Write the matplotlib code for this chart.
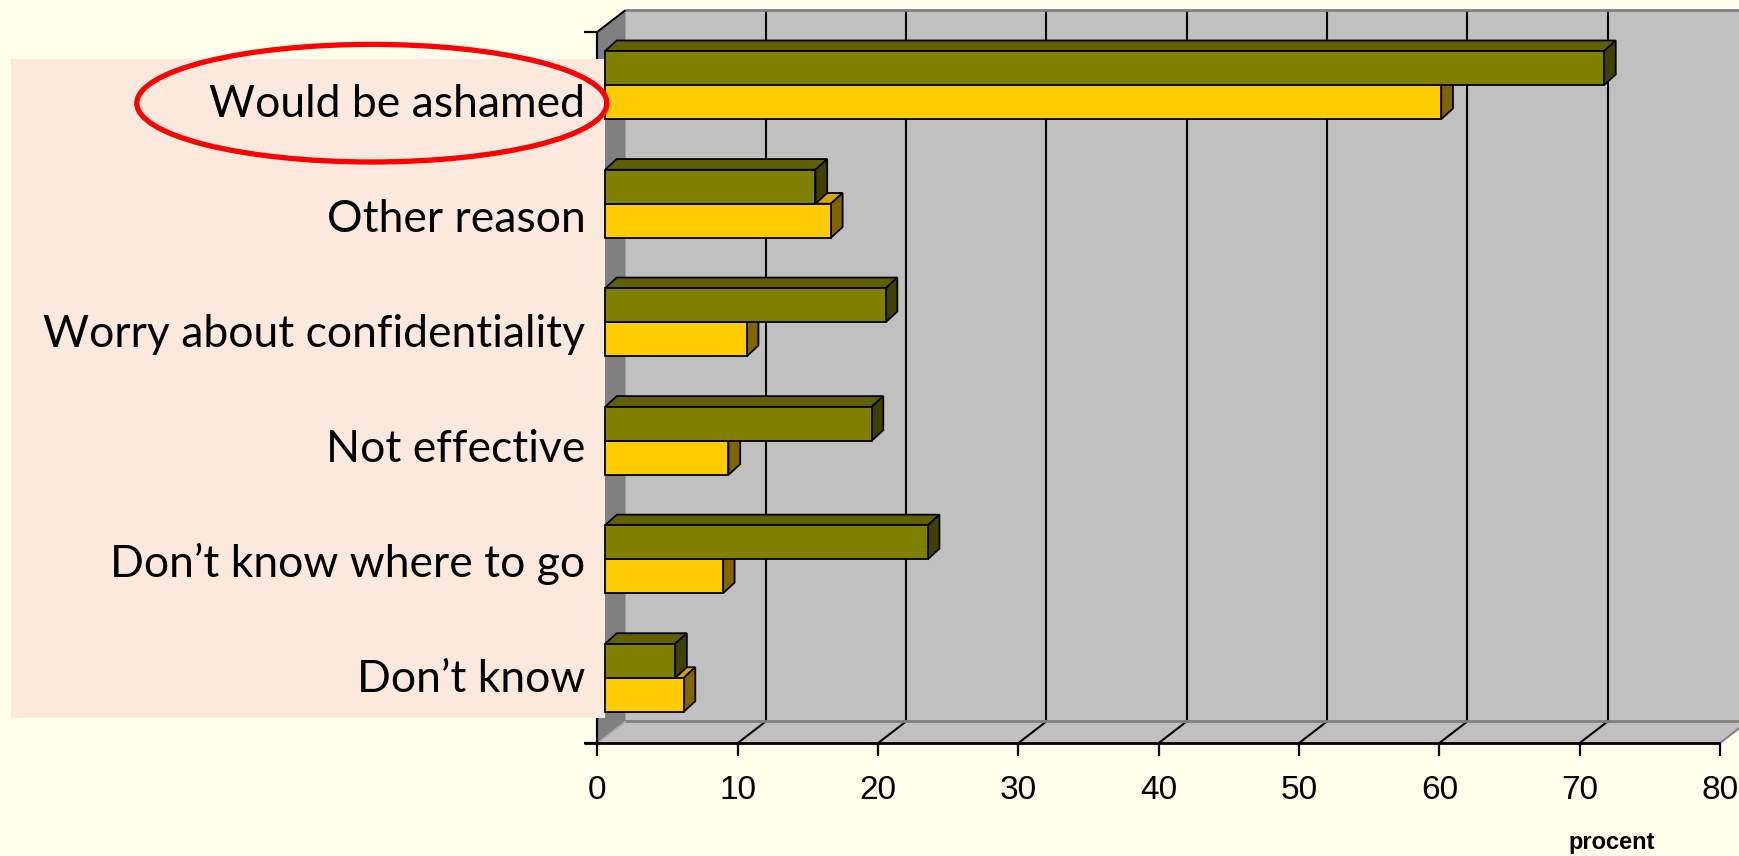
import matplotlib
matplotlib.use("Agg")
import matplotlib.pyplot as plt
from matplotlib.patches import Polygon, Rectangle, Ellipse

# Survey results: reasons for not seeking help (percent)
categories = ["Don\u2019t know", "Don\u2019t know where to go", "Not effective",
              "Worry about confidentiality", "Other reason", "Would be ashamed"]
series_a = [5.0, 23.0, 19.0, 20.0, 15.0, 71.2]   # olive bars (upper in each pair)
series_b = [5.6, 8.4, 8.8, 10.1, 16.1, 59.6]     # yellow bars (lower in each pair)
x_ticks = [0, 10, 20, 30, 40, 50, 60, 70, 80]
x_label = "procent"
highlight = "Would be ashamed"

W, H, DPI = 1740, 856, 100
BG = "#FFFEEB"
PINK = "#FCE9DE"
WALL = "#C0C0C0"
SIDE_WALL = "#808080"
OLIVE = ("#808000", "#606000", "#404000")   # front, top, side
YELLOW = ("#FFCC00", "#D4A600", "#806600")

fig = plt.figure(figsize=(W / DPI, H / DPI), dpi=DPI, facecolor=BG)

# plot frame (front plane) in pixels
x0_px, x1_px = 597.5, 1720.0
y0_px, y1_px = 743.0, 31.7
ax = fig.add_axes([x0_px / W, (H - y0_px) / H, (x1_px - x0_px) / W, (y0_px - y1_px) / H])
ax.set_xlim(x_ticks[0], x_ticks[-1])
ax.set_ylim(0, len(categories))
ax.axis("off")
ax.set_facecolor("none")

ux = (x1_px - x0_px) / (x_ticks[-1] - x_ticks[0])   # px per percent
uy = (y0_px - y1_px) / len(categories)             # px per category

def px_x(p):
    return p / ux

def px_y(p):
    return p / uy

def fig_y(p):
    """data y for a pixel row measured from the top of the figure"""
    return (y0_px - p) / uy

# depth of the chart box
DX, DY = px_x(28), px_y(21.6)
xmax = x_ticks[-1]
ncat = len(categories)

def poly(pts, fc, ec="none", lw=0, z=1):
    ax.add_patch(Polygon(pts, closed=True, facecolor=fc, edgecolor=ec,
                         linewidth=lw, zorder=z, clip_on=False, joinstyle="miter"))

def line(xs, ys, color="black", lw=1.4, z=2):
    ax.plot(xs, ys, color=color, lw=lw, zorder=z, clip_on=False, solid_capstyle="butt")

# back wall, side wall, floor
poly([(DX, DY), (xmax + DX, DY), (xmax + DX, ncat + DY), (DX, ncat + DY)], WALL, z=1)
poly([(0, 0), (DX, DY), (DX, ncat + DY), (0, ncat)], SIDE_WALL, z=1)
poly([(0, 0), (xmax, 0), (xmax + DX, DY), (DX, DY)], WALL, z=1)

# gridlines on back wall and floor
for t in x_ticks[1:]:
    line([t + DX, t + DX], [DY, ncat + DY], lw=1.5, z=2)
    line([t, t + DX], [0, DY], color="black" if t < xmax else SIDE_WALL, lw=1.5, z=2)
line([DX, xmax + DX], [DY, DY], color=SIDE_WALL, lw=2.0, z=2)
line([DX, xmax + DX], [ncat + DY, ncat + DY], color=SIDE_WALL, lw=2.0, z=2)
line([0, DX], [0, DY], color="#A8A8A8", lw=1.2, z=2)
line([0, DX], [ncat, ncat + DY], lw=1.4, z=2)

# axes lines and ticks
tick_len_x = px_y(13)
tick_len_y = px_x(13)
line([-tick_len_y, xmax], [0, 0], lw=2.0, z=3)
line([0, 0], [0, ncat], lw=1.6, z=3)
for t in x_ticks:
    line([t, t], [0, -tick_len_x], lw=1.6, z=3)
    ax.text(t, px_y(-47.5), f"{t}", ha="center", va="center",
            fontsize=24, family="Liberation Sans", color="black", zorder=5)
for k in range(ncat + 1):
    line([-tick_len_y, 0], [k, k], lw=1.6, z=3)

ax.text(px_x(1611.5 - x0_px), px_y(-99), x_label, ha="center", va="center",
        fontsize=17, fontweight="bold", family="Liberation Sans", zorder=5)

# label panel
pl, pr = px_x(11 - x0_px), px_x(605 - x0_px)
pb, pt = fig_y(718), fig_y(59)
ax.add_patch(Rectangle((pl, pb), pr - pl, pt - pb, facecolor=PINK, edgecolor="none",
                       zorder=4, clip_on=False))

# category labels, set as lines of a text panel (top line first)
first_baseline, line_step = 116.8, 115.0
for k, name in enumerate(reversed(categories)):
    ax.text(px_x(-12), fig_y(first_baseline + k * line_step), name, ha="right",
            va="baseline", fontsize=32, family=["Lato", "DejaVu Sans"],
            color="black", zorder=6)

# 3-D bars
bx0, by0 = px_x(7.5), px_y(5.8)      # front face offset into the box
bdx, bdy = px_x(11.7), px_y(10.7)     # bar depth
bh = px_y(34)                         # bar thickness

def bar3d(x_start, y_bot, value, colors):
    front, top, side = colors
    xe = x_start + value
    yt = y_bot + bh
    ec, lw = "black", 1.3
    poly([(x_start, yt), (xe, yt), (xe + bdx, yt + bdy), (x_start + bdx, yt + bdy)],
         top, ec, lw, z=7)
    poly([(xe, y_bot), (xe + bdx, y_bot + bdy), (xe + bdx, yt + bdy), (xe, yt)],
         side, ec, lw, z=7)
    poly([(x_start, y_bot), (xe, y_bot), (xe, yt), (x_start, yt)], front, ec, lw, z=8)

for i in range(ncat):
    c = i + 0.5 + by0
    bar3d(bx0, c - bh, series_b[i], YELLOW)
    bar3d(bx0, c, series_a[i], OLIVE)

# highlight ring around the first label line
ax.add_patch(Ellipse((px_x(371.8 - x0_px), fig_y(103.2)),
                     width=px_x(470), height=px_y(117.6), facecolor="none",
                     edgecolor="#FF0000", linewidth=3.8, zorder=9, clip_on=False))

fig.savefig("out.png", dpi=DPI, facecolor=BG)
